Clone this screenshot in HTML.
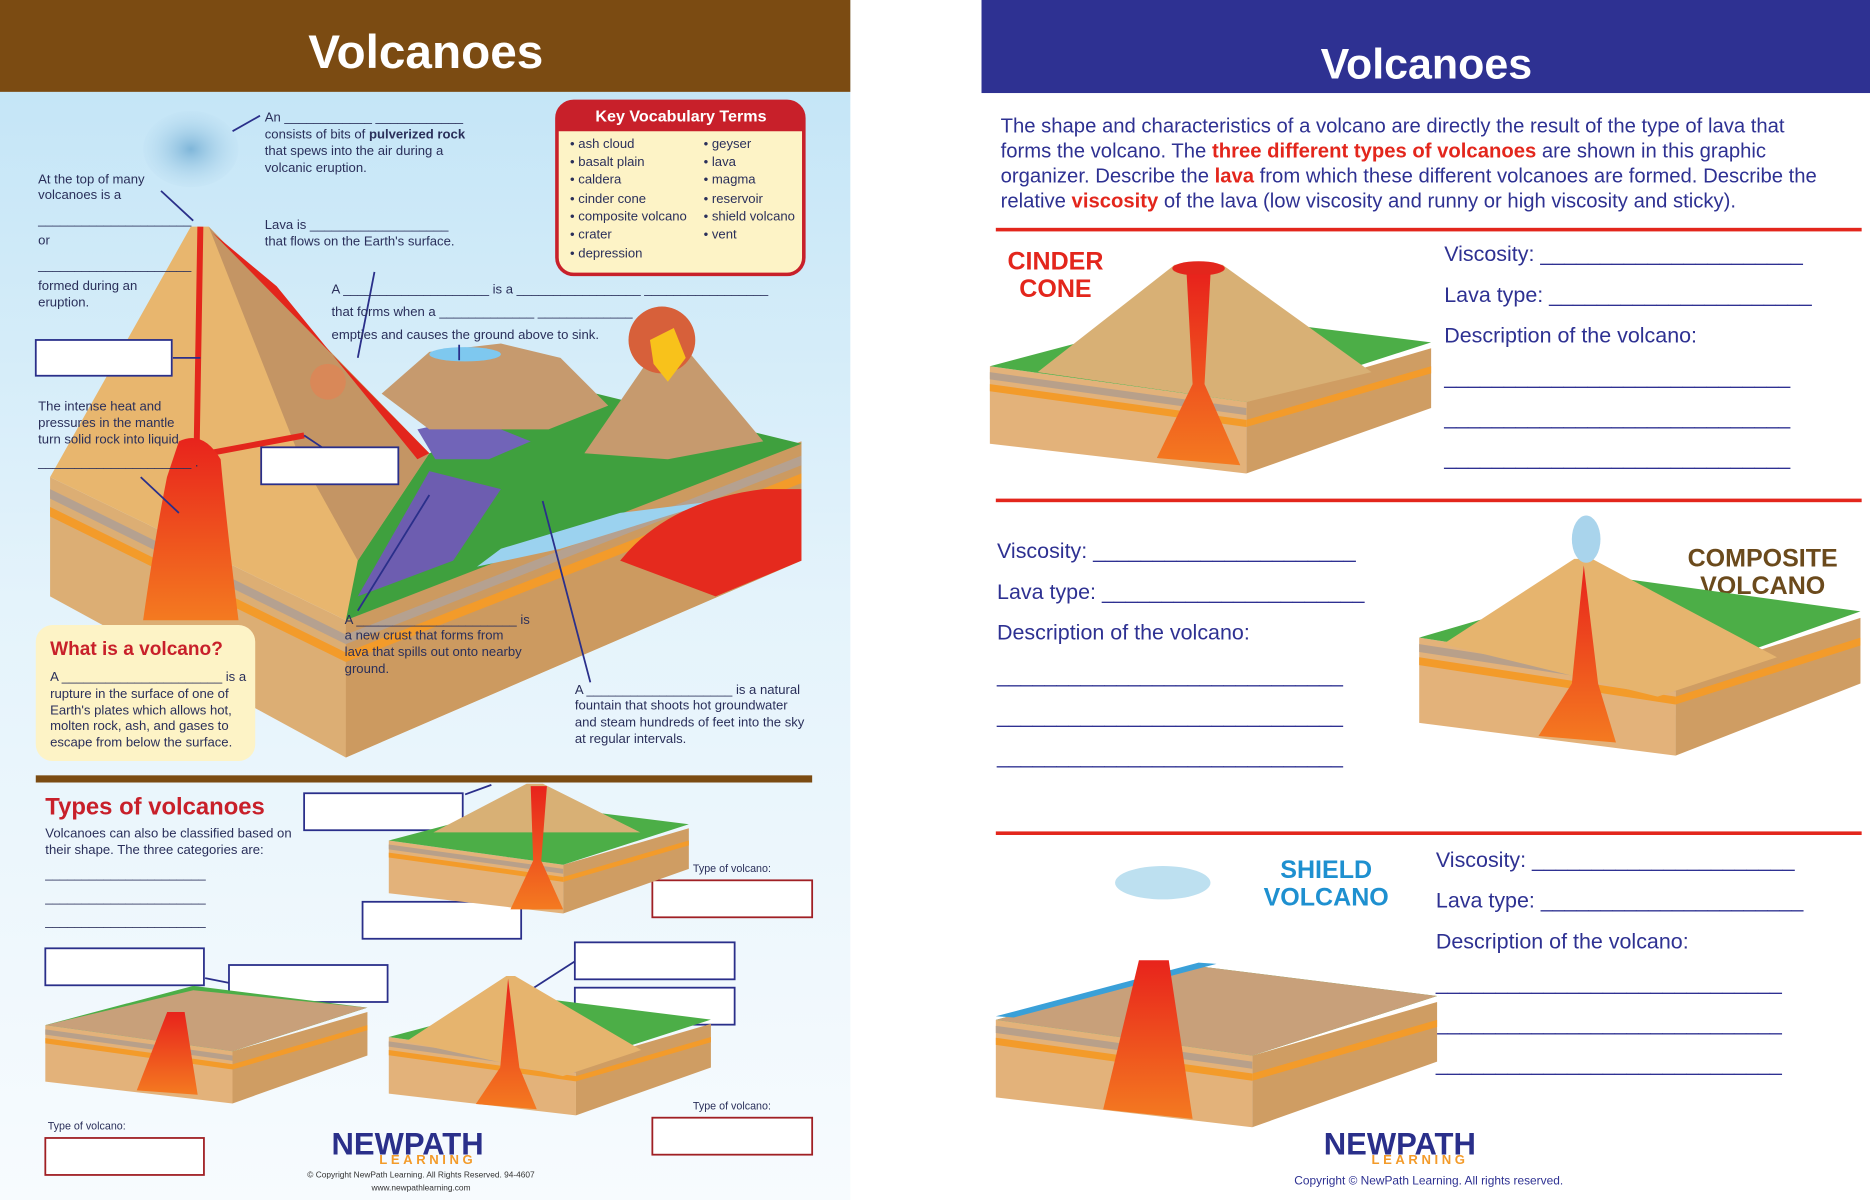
<!DOCTYPE html>
<html><head><meta charset="utf-8"><style>
html,body{margin:0;padding:0;background:#fff;}
svg{display:block;}
text{font-family:"Liberation Sans",sans-serif;}
</style></head><body>
<svg width="1870" height="1200" viewBox="0 0 1568 1006" preserveAspectRatio="none" xmlns="http://www.w3.org/2000/svg">
<defs>
<linearGradient id="sky" x1="0" y1="0" x2="0" y2="1"><stop offset="0" stop-color="#bfe3f6"/><stop offset="0.5" stop-color="#e4f3fb"/><stop offset="1" stop-color="#f7fbfe"/></linearGradient>
<linearGradient id="mag" x1="0" y1="0" x2="0" y2="1"><stop offset="0" stop-color="#e8231c"/><stop offset="1" stop-color="#f47a20"/></linearGradient>
<radialGradient id="cloud"><stop offset="0" stop-color="#7fb6d9"/><stop offset="1" stop-color="#bfe0f3" stop-opacity="0.3"/></radialGradient>
<g id="blockA">
 <polygon points="0,95 215,125 215,185 0,160" fill="#e3b27a"/>
 <polygon points="0,110 215,140 215,146 0,116" fill="#f39b2a"/>
 <polygon points="0,100 215,130 215,136 0,106" fill="#b8a08a"/>
 <polygon points="215,125 370,80 370,130 215,185" fill="#cf9d63"/>
 <polygon points="215,140 370,95 370,101 215,146" fill="#f39b2a"/>
 <polygon points="0,95 170,50 370,75 215,125" fill="#4cae47"/>
</g>
</defs>
<!-- LEFT PANEL -->
<rect x="0" y="0" width="713" height="1006" fill="url(#sky)"/>
<rect x="0" y="0" width="713" height="77" fill="#7b4b12"/>
<text x="357" y="57" text-anchor="middle" font-size="40" font-weight="bold" fill="#fff">Volcanoes</text>

<!-- big diagram -->
<polygon points="42,400 290,520 672,370 672,470 290,635 42,500" fill="#dcae74"/>
<polygon points="290,520 672,370 672,470 290,635" fill="#cc9a60"/>
<polygon points="42,410 290,532 290,540 42,418" fill="#b5a190"/>
<polygon points="42,425 290,547 290,555 42,433" fill="#f39b2a"/>
<polygon points="290,532 672,382 672,390 290,540" fill="#b5a190"/>
<polygon points="290,547 672,397 672,405 290,555" fill="#f39b2a"/>
<polygon points="280,480 360,380 500,330 672,372 290,520" fill="#3fa03e"/>
<polygon points="360,395 420,410 380,470 300,500" fill="#6d5db0"/>
<polygon points="350,360 395,350 445,370 410,385 365,385" fill="#7164b8"/>
<polygon points="420,460 520,430 600,420 470,460 400,475" fill="#9bd2ef"/>
<path d="M520,470 Q560,420 640,410 L672,410 L672,470 L600,500 Z" fill="#e52a1e"/>
<polygon points="320,330 360,295 420,288 470,300 510,340 460,360 360,360" fill="#c69a6e"/>
<ellipse cx="390" cy="297" rx="30" ry="6" fill="#7ec8ef"/>
<polygon points="490,380 545,300 580,298 640,370 560,385" fill="#c69a6e"/>
<circle cx="555" cy="285" r="28" fill="#d7603a"/>
<polygon points="545,285 565,275 575,300 560,320 548,305" fill="#f8c21b"/>
<polygon points="42,400 160,190 175,190 360,380 300,470 290,520" fill="#e8b66e"/>
<polygon points="175,190 360,380 300,470 250,380" fill="#c49564"/>
<path d="M178,195 L360,380 L350,385 L232,240 Z" fill="#e3261c"/>
<ellipse cx="160" cy="125" rx="40" ry="32" fill="url(#cloud)"/>
<path d="M168,190 L165,370 L175,380 L255,365" stroke="#e3261c" stroke-width="5" fill="none"/>
<path d="M150,370 Q170,360 185,385 Q190,440 200,520 L120,520 Q130,450 140,400 Z" fill="url(#mag)"/>
<circle cx="275" cy="320" r="15" fill="#d98858"/>
<!-- leader lines -->
<g stroke="#2a2f8a" stroke-width="1.5" fill="none">
<line x1="218" y1="97" x2="195" y2="110"/><line x1="135" y1="160" x2="162" y2="185"/>
<line x1="314" y1="228" x2="300" y2="300"/><line x1="145" y1="300" x2="168" y2="300"/>
<line x1="255" y1="365" x2="270" y2="375"/><line x1="118" y1="400" x2="150" y2="430"/>
<line x1="385" y1="289" x2="385" y2="302"/><line x1="360" y1="415" x2="300" y2="512"/>
<line x1="455" y1="420" x2="495" y2="572"/>
<line x1="390" y1="666" x2="412" y2="658"/><line x1="432" y1="700" x2="413" y2="756"/>
<line x1="172" y1="820" x2="192" y2="824"/><line x1="440" y1="833" x2="482" y2="806"/><line x1="440" y1="840" x2="482" y2="842"/>
</g>
<g font-size="11" fill="#2a2f5a">
<text x="222" y="102">An ____________ ____________</text>
<text x="222" y="116">consists of bits of <tspan font-weight="bold">pulverized rock</tspan></text>
<text x="222" y="130">that spews into the air during a</text>
<text x="222" y="144">volcanic eruption.</text>
<text x="32" y="154">At the top of many</text><text x="32" y="167">volcanoes is a</text>
<text x="32" y="188">_____________________</text><text x="32" y="205">or</text>
<text x="32" y="226">_____________________</text>
<text x="32" y="243">formed during an</text><text x="32" y="257">eruption.</text>
<text x="222" y="192">Lava is ___________________</text><text x="222" y="206">that flows on the Earth's surface.</text>
<text x="278" y="246">A ____________________ is a _________________ _________________</text>
<text x="278" y="265">that forms when a _____________ _____________</text>
<text x="278" y="284">empties and causes the ground above to sink.</text>
<text x="32" y="344">The intense heat and</text><text x="32" y="358">pressures in the mantle</text><text x="32" y="372">turn solid rock into liquid</text>
<text x="32" y="391">_____________________ .</text>
<text x="289" y="523">A ______________________ is</text><text x="289" y="536">a new crust that forms from</text><text x="289" y="550">lava that spills out onto nearby</text><text x="289" y="564">ground.</text>
<text x="482" y="582">A ____________________ is a natural</text><text x="482" y="595">fountain that shoots hot groundwater</text><text x="482" y="609">and steam hundreds of feet into the sky</text><text x="482" y="623">at regular intervals.</text>
</g>
<g fill="#fff" stroke="#2a2f8a" stroke-width="1.5">
<rect x="30" y="285" width="114" height="30"/><rect x="219" y="375" width="115" height="31"/>
<rect x="255" y="665" width="133" height="31"/><rect x="304" y="756" width="133" height="31"/>
<rect x="38" y="795" width="133" height="31"/><rect x="192" y="809" width="133" height="31"/>
<rect x="482" y="790" width="134" height="31"/><rect x="482" y="828" width="134" height="31"/>
</g>
<g fill="#fff" stroke="#a01f24" stroke-width="1.5">
<rect x="547" y="738" width="134" height="31"/><rect x="547" y="937" width="134" height="31"/><rect x="38" y="954" width="133" height="31"/>
</g>
<!-- vocab box -->
<rect x="467" y="85" width="207" height="145" rx="14" fill="#fdf3c6" stroke="#c8202a" stroke-width="3"/>
<path d="M467,99 a14,14 0 0 1 14,-14 h179 a14,14 0 0 1 14,14 v11 h-207 Z" fill="#c8202a"/>
<text x="571" y="102" text-anchor="middle" font-size="13.5" font-weight="bold" fill="#fff">Key Vocabulary Terms</text>
<g font-size="11" fill="#2a2f5a">
<text x="478" y="124">• ash cloud</text><text x="478" y="139">• basalt plain</text><text x="478" y="154">• caldera</text><text x="478" y="170">• cinder cone</text><text x="478" y="185">• composite volcano</text><text x="478" y="200">• crater</text><text x="478" y="216">• depression</text>
<text x="590" y="124">• geyser</text><text x="590" y="139">• lava</text><text x="590" y="154">• magma</text><text x="590" y="170">• reservoir</text><text x="590" y="185">• shield volcano</text><text x="590" y="200">• vent</text>
</g>
<!-- what is a volcano -->
<rect x="30" y="524" width="184" height="114" rx="14" fill="#fdf3c6"/>
<text x="42" y="549" font-size="16" font-weight="bold" fill="#c8202a">What is a volcano?</text>
<g font-size="11" fill="#2a2f5a"><text x="42" y="571">A ______________________ is a</text><text x="42" y="585">rupture in the surface of one of</text><text x="42" y="599">Earth's plates which allows hot,</text><text x="42" y="612">molten rock, ash, and gases to</text><text x="42" y="626">escape from below the surface.</text></g>
<rect x="30" y="650" width="651" height="6" fill="#7b4b12"/>
<text x="38" y="683" font-size="20" font-weight="bold" fill="#c8202a">Types of volcanoes</text>
<g font-size="11" fill="#2a2f5a"><text x="38" y="702">Volcanoes can also be classified based on</text><text x="38" y="716">their shape. The three categories are:</text>
<text x="38" y="736">______________________</text><text x="38" y="756">______________________</text><text x="38" y="776">______________________</text></g>
<g font-size="9" fill="#2a2f5a"><text x="581" y="731">Type of volcano:</text><text x="581" y="930">Type of volcano:</text><text x="40" y="947">Type of volcano:</text></g>
<!-- small blocks -->
<g transform="translate(326,640) scale(0.68)"><use href="#blockA"/>
<polygon points="55,85 170,25 190,25 310,85" fill="#d8b075"/><path d="M175,28 L195,28 L188,120 L215,180 L150,180 L178,120 Z" fill="url(#mag)"/></g>
<g transform="translate(38,790) scale(0.73)"><use href="#blockA"/><polygon points="0,95 170,55 370,75 215,125" fill="#c8a07a"/><path d="M140,80 L160,80 L175,175 L105,170 Z" fill="url(#mag)"/></g>
<g transform="translate(326,800) scale(0.73)"><use href="#blockA"/><polygon points="20,100 135,25 145,25 290,110 200,140" fill="#e6b46e"/><path d="M137,28 L150,130 L170,178 L100,172 L128,130 Z" fill="url(#mag)"/></g>
<text x="278" y="968" font-size="26" font-weight="bold" fill="#2a2f8a">NEWPATH</text>
<text x="318" y="976" font-size="11" font-weight="bold" fill="#f39b2a" letter-spacing="3">LEARNING</text>
<text x="353" y="987" font-size="7" text-anchor="middle" fill="#333">© Copyright NewPath Learning. All Rights Reserved. 94-4607</text>
<text x="353" y="998" font-size="7" text-anchor="middle" fill="#333">www.newpathlearning.com</text>

<!-- RIGHT PANEL -->
<rect x="823" y="0" width="745" height="78" fill="#2e3192"/>
<text x="1196" y="66" text-anchor="middle" font-size="36" font-weight="bold" fill="#fff">Volcanoes</text>
<g font-size="17" fill="#2e3192">
<text x="839" y="111">The shape and characteristics of a volcano are directly the result of the type of lava that</text>
<text x="839" y="132">forms the volcano.  The <tspan fill="#e3261c" font-weight="bold">three different types of volcanoes</tspan> are shown in this graphic</text>
<text x="839" y="153">organizer.  Describe the <tspan fill="#e3261c" font-weight="bold">lava</tspan> from which these different volcanoes are formed.  Describe the</text>
<text x="839" y="174">relative <tspan fill="#e3261c" font-weight="bold">viscosity</tspan> of the lava (low viscosity and runny or high viscosity and sticky).</text>
</g>
<g fill="#e3261c"><rect x="835" y="191" width="726" height="3"/><rect x="835" y="418" width="726" height="3"/><rect x="835" y="697" width="726" height="3"/></g>
<g font-size="18" fill="#2e3192">
<text x="1211" y="219">Viscosity: ______________________</text><text x="1211" y="253">Lava type: ______________________</text><text x="1211" y="287">Description of the volcano:</text>
<text x="1211" y="322">_____________________________</text><text x="1211" y="356">_____________________________</text><text x="1211" y="390">_____________________________</text>
<text x="836" y="468">Viscosity: ______________________</text><text x="836" y="502">Lava type: ______________________</text><text x="836" y="536">Description of the volcano:</text>
<text x="836" y="572">_____________________________</text><text x="836" y="606">_____________________________</text><text x="836" y="640">_____________________________</text>
<text x="1204" y="727">Viscosity: ______________________</text><text x="1204" y="761">Lava type: ______________________</text><text x="1204" y="795">Description of the volcano:</text>
<text x="1204" y="830">_____________________________</text><text x="1204" y="864">_____________________________</text><text x="1204" y="898">_____________________________</text>
</g>
<g font-size="21" font-weight="bold" text-anchor="middle">
<text x="885" y="226" fill="#e3261c">CINDER</text><text x="885" y="249" fill="#e3261c">CONE</text>
<text x="1478" y="475" fill="#6b4a1c">COMPOSITE</text><text x="1478" y="498" fill="#6b4a1c">VOLCANO</text>
<text x="1112" y="736" fill="#1e90d0">SHIELD</text><text x="1112" y="759" fill="#1e90d0">VOLCANO</text>
</g>
<!-- right diagrams -->
<g transform="translate(830,212)"><use href="#blockA"/>
<polygon points="40,100 155,10 195,10 320,100 215,125" fill="#d8b075"/><ellipse cx="175" cy="13" rx="22" ry="6" fill="#e3261c"/>
<path d="M165,18 L185,18 L180,110 L210,178 L140,172 L170,110 Z" fill="url(#mag)"/></g>
<g transform="translate(1190,430) scale(1.0,1.1)"><use href="#blockA"/>
<polygon points="20,100 130,35 145,35 300,110 200,140" fill="#e6b46e"/><path d="M138,40 L150,130 L165,175 L100,170 L128,130 Z" fill="url(#mag)"/>
<ellipse cx="140" cy="20" rx="12" ry="18" fill="#a9d4ec"/></g>
<g transform="translate(835,760)"><use href="#blockA"/><polygon points="0,95 170,50 370,75 215,125" fill="#c8a07a"/><polygon points="0,92 170,47 185,48 15,93" fill="#3aa0d8"/>
<path d="M120,45 L145,45 L165,178 L90,170 Z" fill="url(#mag)"/><ellipse cx="140" cy="-20" rx="40" ry="14" fill="#bde0f0"/></g>
<text x="1110" y="968" font-size="26" font-weight="bold" fill="#2a2f8a">NEWPATH</text>
<text x="1150" y="976" font-size="11" font-weight="bold" fill="#f39b2a" letter-spacing="3">LEARNING</text>
<text x="1198" y="993" font-size="10" text-anchor="middle" fill="#2e3192">Copyright © NewPath Learning.  All rights reserved.</text>
</svg>
</body></html>
